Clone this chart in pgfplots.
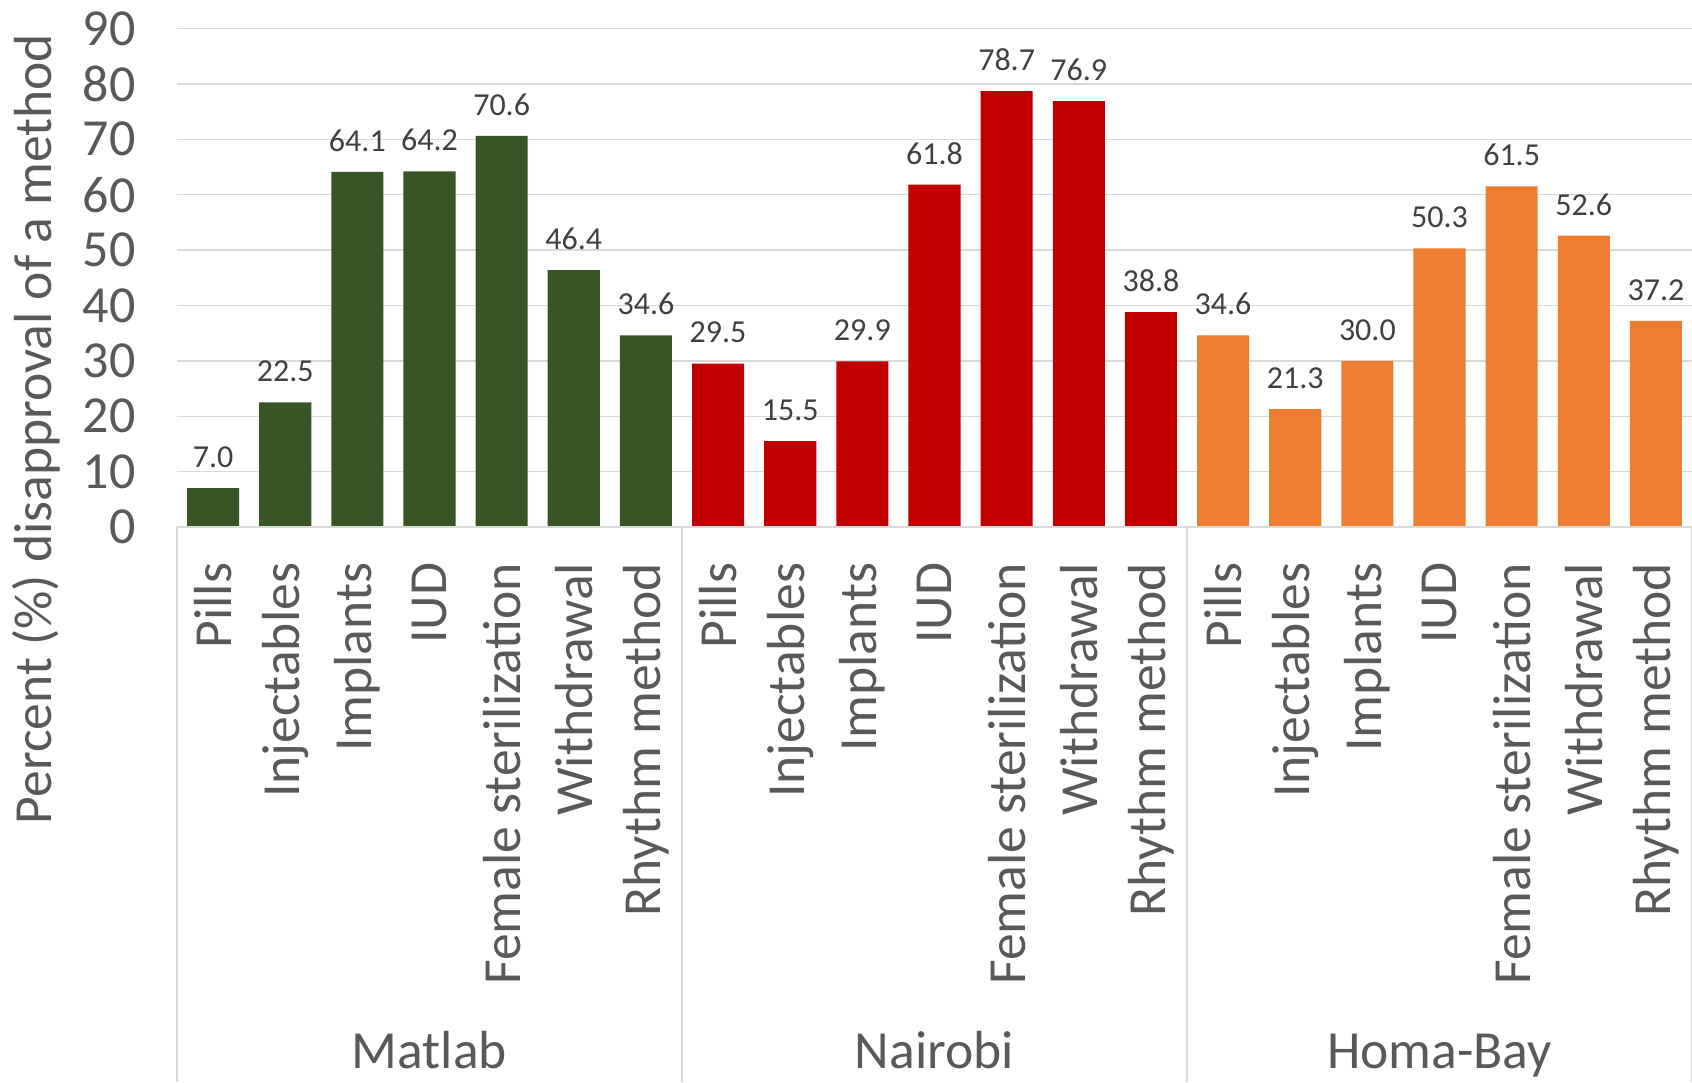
\documentclass[border=0pt]{standalone}
\usepackage{pgfplots}
\pgfplotsset{compat=1.18}
\usepackage{fontspec}
\setmainfont{Carlito}
\definecolor{cgreen}{HTML}{375623}
\definecolor{cred}{HTML}{C00000}
\definecolor{corange}{HTML}{ED7D31}
\definecolor{gridc}{HTML}{D9D9D9}
\definecolor{txt}{HTML}{595959}
\definecolor{lbl}{HTML}{404040}
\begin{document}
\begin{tikzpicture}
\useasboundingbox (0pt,0pt) rectangle (846pt,541pt);
\begin{axis}[
  at={(88.5pt,277.5pt)}, anchor=south west,
  scale only axis, width=757.5pt, height=249.25pt,
  xmin=-0.5, xmax=20.5, ymin=0, ymax=90,
  ytick={0,10,...,90},
  xtick={0,...,20},
  xticklabels={Pills,Injectables,Implants,IUD,Female sterilization,Withdrawal,Rhythm method,Pills,Injectables,Implants,IUD,Female sterilization,Withdrawal,Rhythm method,Pills,Injectables,Implants,IUD,Female sterilization,Withdrawal,Rhythm method},
  axis line style={draw=none},
  tick style={draw=none},
  ymajorgrids, grid style={gridc, line width=0.7pt},
  /pgf/number format/assume math mode=true,
  yticklabel style={anchor=east, inner sep=0pt, xshift=-20.5pt, font=\fontsize{26}{31}\selectfont, text=txt},
  xticklabel style={yshift=-13.5pt, rotate=90, anchor=east, inner sep=0pt, font=\fontsize{26.8}{31}\selectfont, text=txt},
  ybar, bar width=0.722,
  nodes near coords,
  nodes near coords style={font=\fontsize{16}{19}\selectfont, text=lbl, anchor=south, inner sep=0pt, yshift=10pt,
    /pgf/number format/.cd, fixed, fixed zerofill, precision=1, assume math mode=true},
  clip=false,
]
\addplot[bar shift=0pt, draw=none, fill=cgreen] coordinates {(0,7.0) (1,22.5) (2,64.1) (3,64.2) (4,70.6) (5,46.4) (6,34.6)};
\addplot[bar shift=0pt, draw=none, fill=cred] coordinates {(7,29.5) (8,15.5) (9,29.9) (10,61.8) (11,78.7) (12,76.9) (13,38.8)};
\addplot[bar shift=0pt, draw=none, fill=corange] coordinates {(14,34.6) (15,21.3) (16,30.0) (17,50.3) (18,61.5) (19,52.6) (20,37.2)};
\coordinate (s0) at (axis cs:-0.5,0);
\coordinate (s1) at (axis cs:6.5,0);
\coordinate (s2) at (axis cs:13.5,0);
\coordinate (s3) at (axis cs:20.5,0);
\coordinate (g0) at (axis cs:3,0);
\coordinate (g1) at (axis cs:10,0);
\coordinate (g2) at (axis cs:17,0);
\end{axis}
\draw[gridc, line width=0.9pt] (s0) -- (s3);
\foreach \s in {s0,s1,s2,s3} \draw[gridc, line width=0.9pt] (\s) -- (\s |- 0pt,0pt);
\foreach \g/\t in {g0/Matlab,g1/Nairobi,g2/Homa-Bay}
  \node[anchor=base, inner sep=0pt, text=txt, font=\fontsize{26.8}{31}\selectfont] at (\g |- 0pt,7pt) {\t};
\node[rotate=90, text=txt, font=\fontsize{26.8}{31}\selectfont, inner sep=0pt] at (18pt,326.5pt) {Percent (\%) disapproval of a method};
\end{tikzpicture}
\end{document}
